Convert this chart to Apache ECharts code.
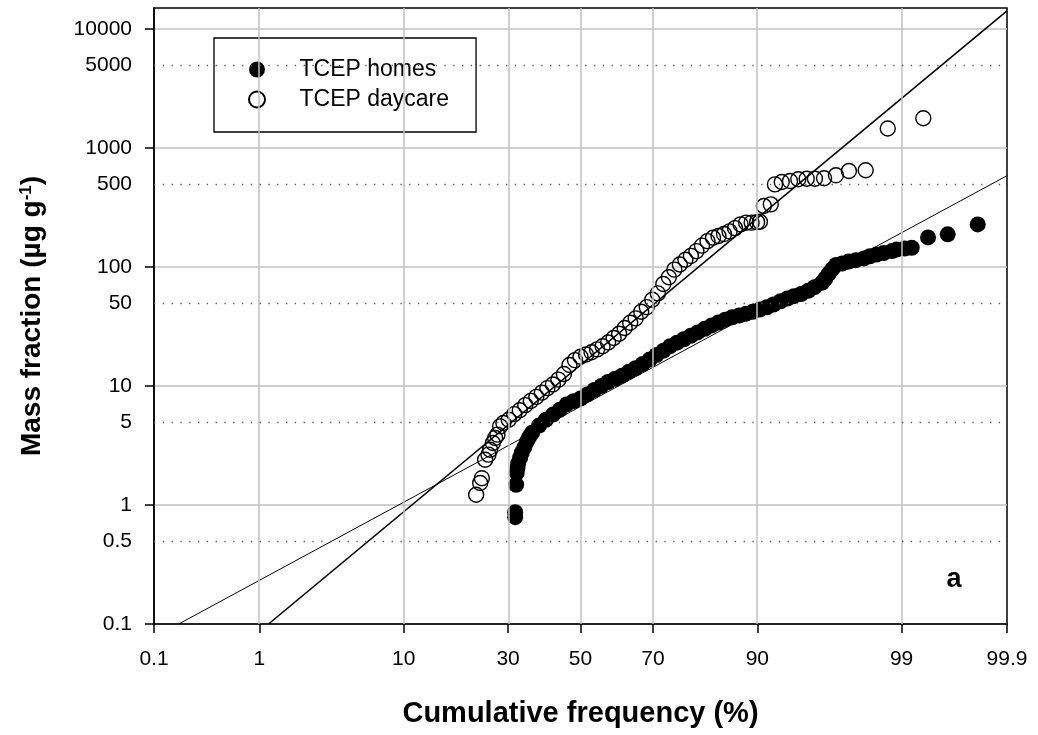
<!DOCTYPE html>
<html lang="en">
<head>
<meta charset="UTF-8">
<title>TCEP cumulative frequency</title>
<script src="https://cdn.jsdelivr.net/npm/echarts@6/dist/echarts.min.js"></script>
<style>
    body, html { margin: 0; padding: 0; background: #fff; }
    #chart-panel { width: 1038px; height: 735px; }
</style>
</head>
<body>
<div id="chart-panel"></div>
<script>
// cumulative frequency (%) and mass fraction (ug/g)
var homesPct = [31.8, 31.8, 32.05, 32.2, 32.4, 32.6, 33.1, 33.5, 34.2, 34.9,
    35.5, 36.3, 38.2, 40.1, 42.1, 44.0, 46.0, 48.0, 50.0, 52.0,
    54.0, 56.0, 57.9, 59.9, 61.8, 63.7, 65.5, 67.4, 69.2, 70.9,
    72.6, 74.2, 75.8, 77.3, 78.8, 80.2, 81.6, 82.9, 84.1, 85.3,
    86.4, 87.5, 88.5, 89.4, 90.3, 91.15, 91.9, 92.65, 93.3, 93.9,
    94.5, 95.05, 95.5, 96.0, 96.2, 96.4, 96.6, 96.8, 97.1, 97.4,
    97.7, 98.0, 98.2, 98.4, 98.6, 98.8, 98.9, 99.06, 99.18, 99.41,
    99.61, 99.8];
var homesVal = [0.79, 0.87, 1.48, 1.86, 2.05, 2.25, 2.5, 2.74, 3.05, 3.43,
    3.72, 4.05, 4.65, 5.2, 5.75, 6.3, 7.0, 7.45, 7.85, 8.5,
    9.25, 10.0, 10.8, 11.5, 12.2, 13.2, 14.1, 15.3, 16.7, 18.2,
    19.8, 21.6, 23.1, 24.7, 26.4, 28.2, 30.2, 32.3, 34.1, 36.1,
    37.8, 39.1, 40.5, 42.0, 43.9, 45.9, 48.4, 51.5, 54.3, 56.8,
    59.3, 63, 67.6, 73.8, 80, 88, 96, 104, 107, 111,
    114, 118, 123, 127, 131, 136, 140, 143, 145, 177,
    188, 228];

var daycarePct = [22.48, 23.36, 23.74, 24.48, 25.24, 25.63, 26.27, 26.81, 27.37, 28.02,
    28.82, 30.15, 31.56, 33.0, 34.46, 35.94, 37.45, 38.97, 40.52, 42.07,
    43.64, 45.22, 46.81, 48.4, 50.0, 51.6, 53.19, 54.78, 56.36, 57.93,
    59.48, 61.03, 62.55, 64.06, 65.54, 67.0, 68.44, 69.85, 71.23, 72.57,
    73.89, 75.17, 76.42, 77.64, 78.81, 79.95, 81.06, 82.12, 83.15, 84.13,
    85.08, 85.99, 86.86, 87.7, 88.49, 89.25, 89.97, 90.32, 90.8, 91.6,
    92.06, 92.76, 93.55, 94.27, 94.94, 95.53, 96.12, 96.79, 97.41, 98.06,
    98.70, 99.35];
var daycareVal = [1.22, 1.53, 1.68, 2.40, 2.65, 2.91, 3.32, 3.66, 3.90, 4.58,
    4.89, 5.2, 5.8, 6.25, 6.9, 7.5, 8.1, 8.8, 9.6, 10.3,
    11.3, 12.6, 15.0, 16.5, 17.6, 18.4, 19.2, 20.3, 21.6, 23.2,
    25.3, 27.5, 30.7, 34, 37, 42, 46, 53, 60, 72,
    82, 95, 105, 115, 124, 136, 151, 165, 176, 182,
    189, 199, 212, 228, 236, 236, 238, 240, 325, 336,
    494, 518, 527, 546, 552, 552, 556, 589, 640, 649,
    1456, 1778];

// lognormal fit lines (end points)
var fitHomesPct = [0.18, 99.9];
var fitHomesVal = [0.1, 585];
var fitDaycarePct = [1.19, 99.9];
var fitDaycareVal = [0.1, 14200];

var xTicks = [0.1, 1, 10, 30, 50, 70, 90, 99, 99.9];
var xTickLabels = ['0.1', '1', '10', '30', '50', '70', '90', '99', '99.9'];
var xGrid = [1, 10, 30, 50, 70, 90, 99];
var yTickLabels = [0.1, 0.5, 1, 5, 10, 50, 100, 500, 1000, 5000, 10000];
var yDecades = [0.1, 1, 10, 100, 1000, 10000];
var yDotted = [0.5, 5, 50, 500, 5000];

var FONT = "'Liberation Sans', Arial, sans-serif";

// inverse normal CDF (Acklam) -> probability axis
function probit(p) {
    var a = [-3.969683028665376e+01, 2.209460984245205e+02, -2.759285104469687e+02, 1.383577518672690e+02, -3.066479806614716e+01, 2.506628277459239e+00];
    var b = [-5.447609879822406e+01, 1.615858368580409e+02, -1.556989798598866e+02, 6.680131188771972e+01, -1.328068155288572e+01];
    var c = [-7.784894002430293e-03, -3.223964580411365e-01, -2.400758277161838e+00, -2.549732539343734e+00, 4.374664141464968e+00, 2.938163982698783e+00];
    var d = [7.784695709041462e-03, 3.224671290700398e-01, 2.445134137142996e+00, 3.754408661907416e+00];
    var pl = 0.02425, q, r;
    if (p < pl) {
        q = Math.sqrt(-2 * Math.log(p));
        return (((((c[0] * q + c[1]) * q + c[2]) * q + c[3]) * q + c[4]) * q + c[5]) / ((((d[0] * q + d[1]) * q + d[2]) * q + d[3]) * q + 1);
    }
    if (p > 1 - pl) {
        q = Math.sqrt(-2 * Math.log(1 - p));
        return -(((((c[0] * q + c[1]) * q + c[2]) * q + c[3]) * q + c[4]) * q + c[5]) / ((((d[0] * q + d[1]) * q + d[2]) * q + d[3]) * q + 1);
    }
    q = p - 0.5; r = q * q;
    return (((((a[0] * r + a[1]) * r + a[2]) * r + a[3]) * r + a[4]) * r + a[5]) * q / (((((b[0] * r + b[1]) * r + b[2]) * r + b[3]) * r + b[4]) * r + 1);
}

function toPoints(pcts, vals) {
    return pcts.map(function (p, i) { return [probit(p / 100), vals[i]]; });
}

var xTickPos = xTicks.map(function (p) { return probit(p / 100); });

var gridLines = xGrid.map(function (p) {
    return { xAxis: probit(p / 100), lineStyle: { color: '#c0c0c0', width: 1.5, type: 'solid' } };
}).concat(yDotted.map(function (v) {
    return { yAxis: v, lineStyle: { color: '#555', width: 1.3, type: [1.3, 7.5] } };
}));

var option = {
    animation: false,
    backgroundColor: '#fff',
    textStyle: { fontFamily: FONT },
    grid: {
        left: 154, top: 8, right: 31, bottom: 111,
        show: true, borderColor: '#000', borderWidth: 1.5,
        outerBoundsMode: 'none'
    },
    legend: {
        orient: 'vertical', left: 214, top: 38,
        padding: [20, 27, 21, 34],
        itemWidth: 75, itemHeight: 16, itemGap: 7,
        backgroundColor: '#fff', borderColor: '#000', borderWidth: 1.3,
        icon: 'circle',
        selectedMode: false,
        textStyle: { fontSize: 23, color: '#000', fontFamily: FONT },
        data: ['TCEP homes', 'TCEP daycare']
    },
    xAxis: {
        type: 'value',
        min: probit(0.001) - 1e-9, max: probit(0.999) + 1e-9,
        axisLine: { onZero: false, lineStyle: { color: '#000', width: 1.5 } },
        axisTick: { length: 9, customValues: xTickPos, lineStyle: { color: '#000', width: 1.5 } },
        axisLabel: {
            customValues: xTickPos, margin: 25, fontSize: 21, color: '#000', fontFamily: FONT,
            showMinLabel: true, showMaxLabel: true, hideOverlap: false,
            formatter: function (v) {
                for (var i = 0; i < xTickPos.length; i++) {
                    if (Math.abs(xTickPos[i] - v) < 1e-6) return xTickLabels[i];
                }
                return '';
            }
        },
        splitLine: { show: false },
        name: 'Cumulative frequency (%)',
        nameLocation: 'middle', nameGap: 75,
        nameTextStyle: { fontSize: 29, fontWeight: 'bold', color: '#000', fontFamily: FONT }
    },
    yAxis: {
        type: 'log', logBase: 10, min: 0.1, max: 15000,
        axisLine: { show: true, onZero: false, lineStyle: { color: '#000', width: 1.5 } },
        axisTick: { show: true, length: 9, customValues: yDecades, lineStyle: { color: '#000', width: 1.5 } },
        axisLabel: {
            customValues: yTickLabels, margin: 22, fontSize: 21, color: '#000', fontFamily: FONT,
            formatter: function (v) { return String(+(+v).toPrecision(6)); }
        },
        splitLine: { show: true, lineStyle: { color: '#c0c0c0', width: 1.5 } },
        name: 'Mass fraction (µg g{sup|-1})',
        nameLocation: 'middle', nameRotate: 90, nameGap: 108,
        nameTextStyle: {
            fontSize: 28, fontWeight: 'bold', color: '#000', fontFamily: FONT,
            rich: { sup: { fontSize: 17, fontWeight: 'bold', color: '#000', fontFamily: FONT, verticalAlign: 'top' } }
        }
    },
    graphic: [{
        type: 'text', x: 954, y: 580, z: 10,
        style: { text: 'a', fill: '#000', font: 'bold 27px ' + FONT, textAlign: 'center', textVerticalAlign: 'middle' }
    }],
    series: [
        {
            name: 'grid', type: 'line', data: [], silent: true, z: 1,
            markLine: { silent: true, symbol: ['none', 'none'], animation: false, label: { show: false }, data: gridLines }
        },
        {
            name: 'TCEP homes', type: 'scatter', symbol: 'circle', symbolSize: 16, z: 3,
            itemStyle: { color: '#000', opacity: 1 },
            emphasis: { disabled: true },
            data: toPoints(homesPct, homesVal)
        },
        {
            name: 'TCEP daycare', type: 'scatter', symbol: 'circle', symbolSize: 15, z: 3,
            itemStyle: { color: 'rgba(255,255,255,0)', borderColor: '#000', borderWidth: 1.4, opacity: 1 },
            emphasis: { disabled: true },
            data: toPoints(daycarePct, daycareVal)
        },
        {
            name: 'fit homes', type: 'line', showSymbol: false, silent: true, z: 4,
            lineStyle: { color: '#000', width: 1 },
            data: toPoints(fitHomesPct, fitHomesVal)
        },
        {
            name: 'fit daycare', type: 'line', showSymbol: false, silent: true, z: 4,
            lineStyle: { color: '#000', width: 1.6 },
            data: toPoints(fitDaycarePct, fitDaycareVal)
        }
    ]
};

var chartVM = echarts.init(document.getElementById('chart-panel'));
chartVM.setOption(option);
</script>
</body>
</html>
